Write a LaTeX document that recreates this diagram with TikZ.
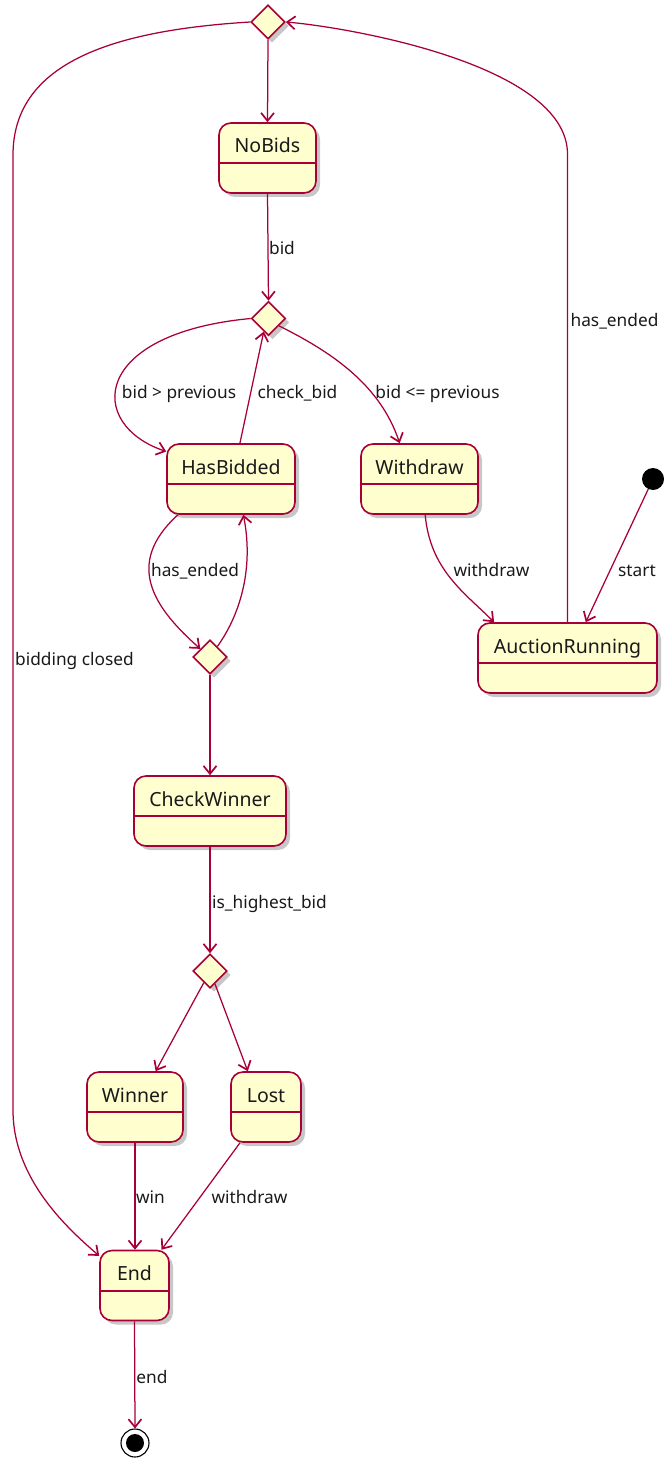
\documentclass[tikz,border=0pt]{standalone}
\usepackage{fontspec}
\setmainfont{Noto Sans}
\usetikzlibrary{shapes.geometric,arrows.meta,shadows,calc}
\definecolor{umlred}{HTML}{A80036}
\definecolor{umlfill}{HTML}{FEFECE}
\tikzset{
  stbox/.style={draw=umlred, fill=umlfill, line width=1.6pt, rounded corners=12pt,
    minimum height=70pt, inner ysep=0pt, inner xsep=0pt, text height=30pt, text depth=40pt,
    font=\fontsize{19.5}{22}\selectfont, text=black!90,
    drop shadow={shadow xshift=4pt, shadow yshift=-4pt, fill=black, opacity=0.22}},
  choice/.style={diamond, draw=umlred, fill=umlfill, line width=1.6pt, minimum width=34pt,
    minimum height=34pt, inner sep=0pt,
    drop shadow={shadow xshift=4pt, shadow yshift=-4pt, fill=black, opacity=0.22}},
  edge/.style={draw=umlred, line width=1.25pt, -{Straight Barb[length=8pt,width=13pt,line width=1.7pt]}},
  lbl/.style={font=\fontsize{17.3}{20}\selectfont, text=black!90, inner sep=0pt, anchor=base},
}
\newcommand{\divline}[1]{\draw[draw=umlred, line width=1.6pt] ([yshift=-41pt]#1.north west) -- ([yshift=-41pt]#1.north east);}
\begin{document}
\begin{tikzpicture}[x=1pt,y=-1pt]
\useasboundingbox (0,0) rectangle (664,1458);
% choices
\node[choice] (top) at (268,22) {};
\node[choice] (d2) at (268.5,318.5) {};
\node[choice] (d3) at (210,657) {};
\node[choice] (d4) at (210,971) {};
% states
\node[stbox, minimum width=97pt] (nobids) at (267.5,158) {NoBids};
\node[stbox, minimum width=128pt] (hasbidded) at (231,479) {HasBidded};
\node[stbox, minimum width=117pt] (withdraw) at (419.5,479) {Withdraw};
\node[stbox, minimum width=179pt] (auction) at (567.5,658) {AuctionRunning};
\node[stbox, minimum width=152pt] (check) at (210,811) {CheckWinner};
\node[stbox, minimum width=96pt] (winner) at (135,1107) {Winner};
\node[stbox, minimum width=70pt] (lost) at (266,1107) {Lost};
\node[stbox, minimum width=69pt] (end) at (134.5,1285.5) {End};
\divline{nobids}\divline{hasbidded}\divline{withdraw}\divline{auction}
\divline{check}\divline{winner}\divline{lost}\divline{end}
% initial / final
\node[circle, fill=black, minimum size=22pt, inner sep=0pt] (init) at (653,479) {};
\node[circle, draw=black, fill=white, line width=1.1pt, minimum size=28pt, inner sep=0pt] (final) at (135,1443) {};
\node[circle, fill=black, minimum size=18pt, inner sep=0pt] (finaldot) at (final.center) {};
% edges
\draw[edge] (top.south) -- (nobids.north);
\draw[edge] (nobids.south) -- (d2.north);
\draw[edge] (d2.west) .. controls +(-160,15) and +(-80,-27) .. (hasbidded.157);
\draw[edge] (hasbidded.76) -- (d2.250);
\draw[edge] (d2.-35) .. controls +(50,25) and +(-20,-60) .. (withdraw.119);
\draw[edge] (withdraw.-81) .. controls +(5,55) and +(-30,-30) .. (auction.154);
\draw[edge] (init) -- (auction.63);
\draw[edge] (auction.north) -- ++(0,-468) .. controls +(0,-90) and +(60,5) .. (top.east);
\draw[edge] (top.west) .. controls +(-131,8) and +(0,-95) .. (13,155) -- (13,1110) .. controls +(0,70) and +(-30,-26) .. (end.140);
\draw[edge] (hasbidded.214) .. controls +(-55,50) and +(-45,-40) .. (d3.140);
\draw[edge] (d3.55) .. controls +(25,-35) and +(10,50) .. (hasbidded.-71);
\draw[edge] (d3.south) -- (check.north);
\draw[edge] (check.south) -- (d4.north);
\draw[edge] (d4.242) -- (winner.60);
\draw[edge] (d4.291) -- (lost.117);
\draw[edge] (winner.south) -- (winner.south |- end.north);
\draw[edge] (lost.234) -- (end.53);
\draw[edge] (end.south) -- (final.north);
% labels
\node[lbl] (l1) at (282,254) {bid};
\node[lbl] (l2) at (179,398) {bid > previous};
\node[lbl] (l3) at (297.5,398) {check\_bid};
\node[lbl] (l4) at (437.5,398) {bid <= previous};
\node[lbl] (l5) at (614.5,326) {has\_ended};
\node[lbl] (l6) at (637,576) {start};
\node[lbl] (l7) at (491.5,576) {withdraw};
\node[lbl] (l8) at (195,576) {has\_ended};
\node[lbl] (l9) at (74.5,665) {bidding closed};
\node[lbl] (l10) at (269.5,908) {is\_highest\_bid};
\node[lbl] (l11) at (150.5,1203) {win};
\node[lbl] (l12) at (249.5,1203) {withdraw};
\node[lbl] (l13) at (152,1383) {end};
\end{tikzpicture}
\end{document}
